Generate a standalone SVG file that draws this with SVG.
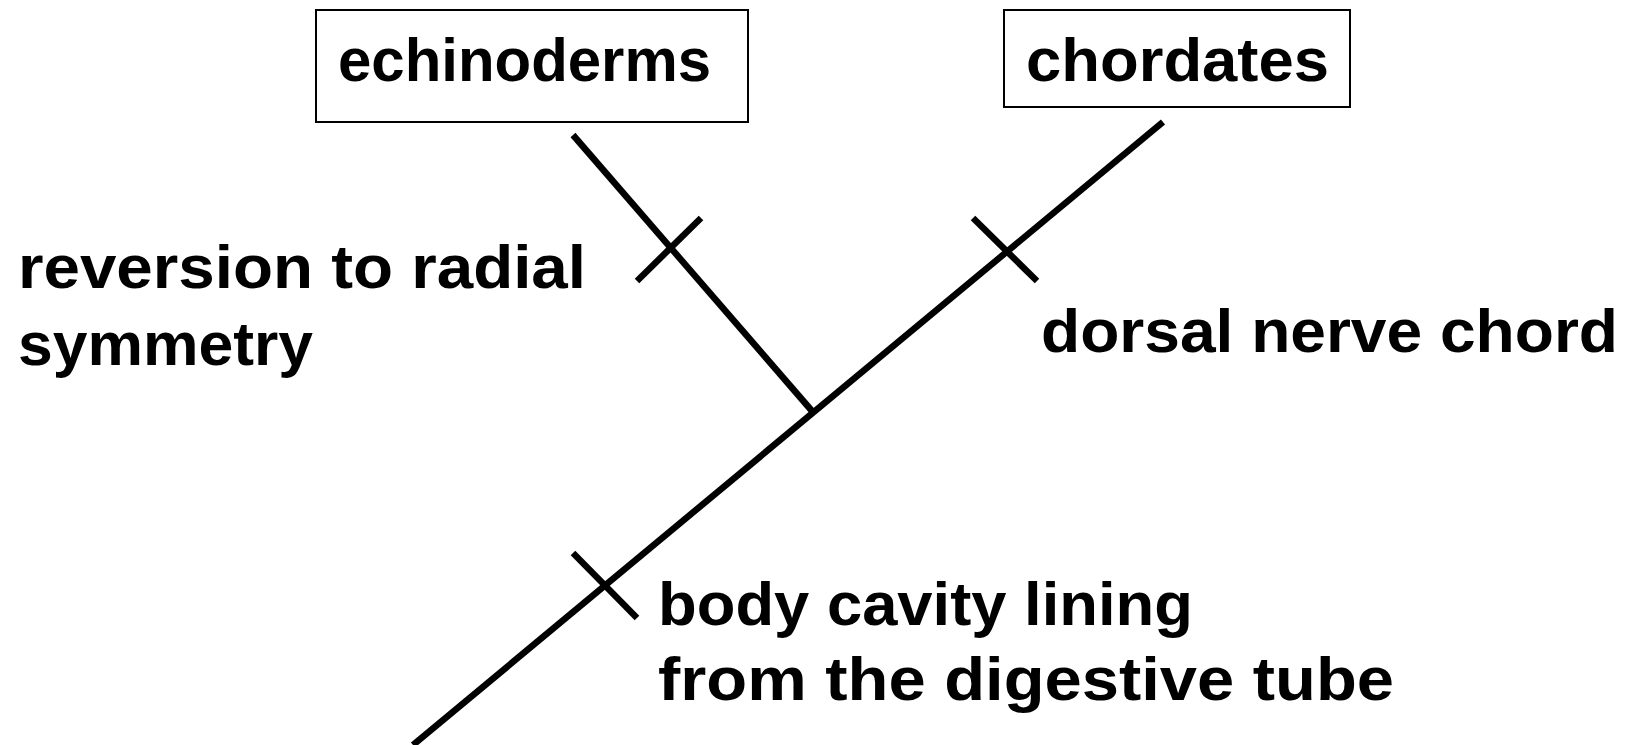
<svg xmlns="http://www.w3.org/2000/svg" width="1633" height="745" viewBox="0 0 1633 745">
<style>
.box{fill:#fff;stroke:#000;stroke-width:2}
.lbl{font-family:"Liberation Sans",Arial,sans-serif;font-weight:bold;font-size:61px;fill:#000}
.ln{stroke:#000;stroke-width:6.5;fill:none;stroke-linecap:butt}
</style>
<rect width="1633" height="745" fill="#fff"/>
<g id="connectors">
<line class="ln" x1="413" y1="745" x2="1163" y2="122"/>
<line class="ln" x1="573" y1="135" x2="812" y2="411"/>
<line class="ln" x1="637" y1="281" x2="701" y2="218"/>
<line class="ln" x1="973" y1="218" x2="1037" y2="281"/>
<line class="ln" x1="573" y1="553" x2="637" y2="618"/>
</g>
<g id="echinoderms">
<rect class="box" x="316" y="10" width="432" height="112"/>
<text class="lbl" x="338" y="81" textLength="373" lengthAdjust="spacingAndGlyphs">echinoderms</text>
</g>
<g id="chordates">
<rect class="box" x="1004" y="10" width="346" height="97"/>
<text class="lbl" x="1026" y="81" textLength="303" lengthAdjust="spacingAndGlyphs">chordates</text>
</g>
<g id="label-radial">
<text class="lbl" x="18" y="288" textLength="568" lengthAdjust="spacingAndGlyphs">reversion to radial</text>
<text class="lbl" x="18" y="365" textLength="295" lengthAdjust="spacingAndGlyphs">symmetry</text>
</g>
<g id="label-dorsal">
<text class="lbl" x="1041" y="352" textLength="577" lengthAdjust="spacingAndGlyphs">dorsal nerve chord</text>
</g>
<g id="label-body">
<text class="lbl" x="658" y="625" textLength="535" lengthAdjust="spacingAndGlyphs">body cavity lining</text>
<text class="lbl" x="658" y="700" textLength="736" lengthAdjust="spacingAndGlyphs">from the digestive tube</text>
</g>
</svg>
